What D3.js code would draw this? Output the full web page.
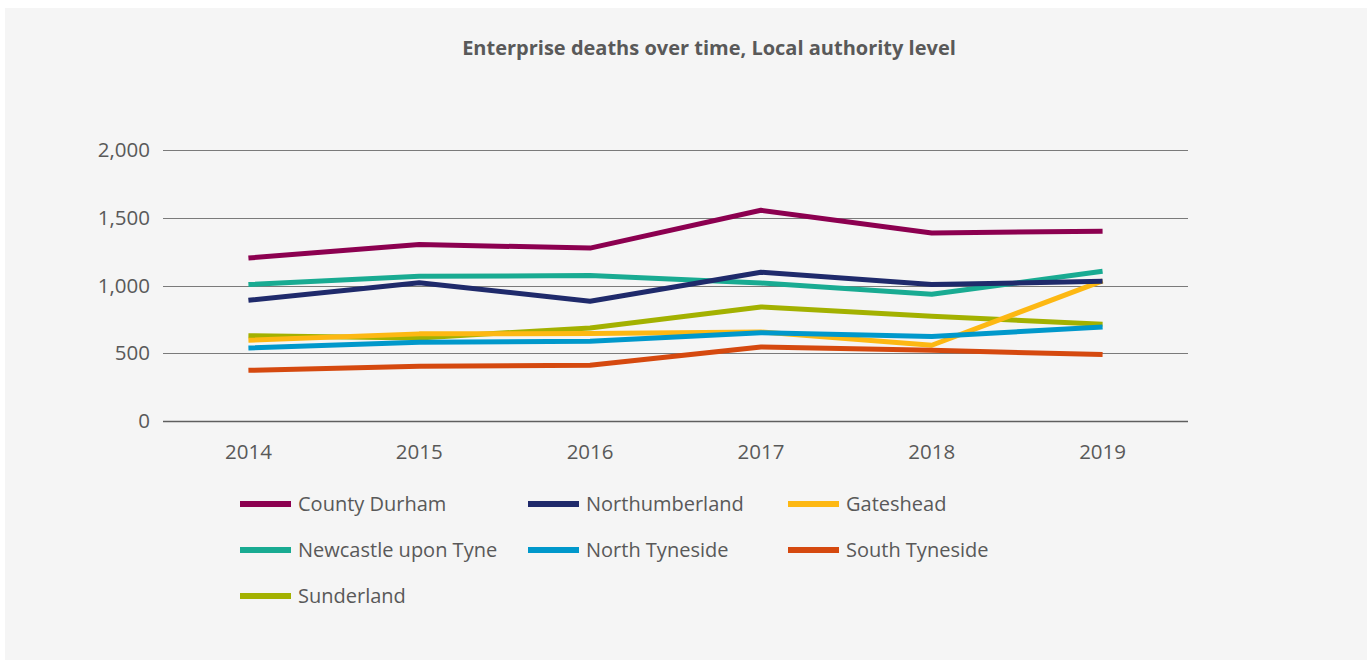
<!DOCTYPE html>
<html>
<head>
<meta charset="utf-8">
<script src="https://cdn.jsdelivr.net/npm/d3@7"></script>
<style>
  body { margin: 0; background: #fff; }
  svg text { font-family: "Open Sans", sans-serif; }
</style>
</head>
<body>
<div id="chart"></div>
<script>
var years = ["2014", "2015", "2016", "2017", "2018", "2019"];
var yTicks = [0, 500, 1000, 1500, 2000];

var countyDurham = [1203, 1303, 1276, 1555, 1388, 1401];
var northumberland = [891, 1021, 884, 1098, 1007, 1031];
var gateshead = [596, 643, 645, 657, 559, 1034];
var newcastle = [1007, 1068, 1073, 1019, 935, 1105];
var northTyneside = [539, 581, 588, 652, 623, 694];
var southTyneside = [374, 404, 411, 546, 522, 490];
var sunderland = [630, 613, 687, 842, 773, 714];

var seriesNames = ["County Durham", "Northumberland", "Gateshead",
  "Newcastle upon Tyne", "North Tyneside", "South Tyneside", "Sunderland"];
var seriesValues = [countyDurham, northumberland, gateshead,
  newcastle, northTyneside, southTyneside, sunderland];
var colors = ["#8c0050", "#1f2a6b", "#fdb813", "#19ab92", "#0098cb", "#d5490f", "#a3b100"];

// drawing order: first drawn sits underneath
var drawOrder = [6, 2, 4, 5, 3, 1, 0];

var width = 1371, height = 660;
var margin = {left: 163, right: 183, top: 150, bottom: 239};

var svg = d3.select("#chart").append("svg")
  .attr("width", width)
  .attr("height", height);

// panel
svg.append("rect")
  .attr("x", 5).attr("y", 8)
  .attr("width", 1362).attr("height", 660)
  .attr("fill", "#f5f5f5");

svg.append("text")
  .attr("x", 709).attr("y", 55)
  .attr("text-anchor", "middle")
  .attr("font-size", 20)
  .attr("font-weight", "bold")
  .attr("fill", "#595959")
  .text("Enterprise deaths over time, Local authority level");

var x = d3.scalePoint()
  .domain(years)
  .range([margin.left, width - margin.right])
  .padding(0.5);

var y = d3.scaleLinear()
  .domain([0, 2000])
  .range([height - margin.bottom, margin.top]);

// gridlines
svg.append("g")
  .selectAll("line")
  .data(yTicks)
  .enter()
  .append("line")
  .attr("x1", margin.left)
  .attr("x2", width - margin.right)
  .attr("y1", function (d) { return Math.round(y(d)) + 0.5; })
  .attr("y2", function (d) { return Math.round(y(d)) + 0.5; })
  .attr("stroke", function (d) { return d === 0 ? "#5f5f5f" : "#7a7a7a"; })
  .attr("stroke-width", function (d) { return d === 0 ? 1.6 : 1; });

// y labels
svg.append("g")
  .selectAll("text")
  .data(yTicks)
  .enter()
  .append("text")
  .attr("x", 150)
  .attr("y", function (d) { return y(d) + 7; })
  .attr("text-anchor", "end")
  .attr("font-size", 20.5)
  .attr("fill", "#595959")
  .text(d3.format(","));

// x labels
svg.append("g")
  .selectAll("text")
  .data(years)
  .enter()
  .append("text")
  .attr("x", function (d) { return x(d); })
  .attr("y", 459)
  .attr("text-anchor", "middle")
  .attr("font-size", 20.5)
  .attr("fill", "#595959")
  .text(function (d) { return d; });

var line = d3.line()
  .x(function (d, i) { return x(years[i]); })
  .y(function (d) { return y(d); });

svg.append("g")
  .selectAll("path")
  .data(drawOrder)
  .enter()
  .append("path")
  .attr("d", function (k) { return line(seriesValues[k]); })
  .attr("fill", "none")
  .attr("stroke", function (k) { return colors[k]; })
  .attr("stroke-width", 5)
  .attr("stroke-linejoin", "round");

// legend
var legendX = [240, 528, 788];
var legendY = [504, 550, 596];

var item = svg.append("g")
  .selectAll("g")
  .data(seriesNames)
  .enter()
  .append("g")
  .attr("transform", function (d, i) {
    return "translate(" + legendX[i % 3] + "," + legendY[Math.floor(i / 3)] + ")";
  });

item.append("rect")
  .attr("x", 0).attr("y", -3)
  .attr("width", 51).attr("height", 6)
  .attr("fill", function (d, i) { return colors[i]; });

item.append("text")
  .attr("x", 58)
  .attr("y", 7)
  .attr("font-size", 20)
  .attr("fill", "#595959")
  .text(function (d) { return d; });
</script>
</body>
</html>
